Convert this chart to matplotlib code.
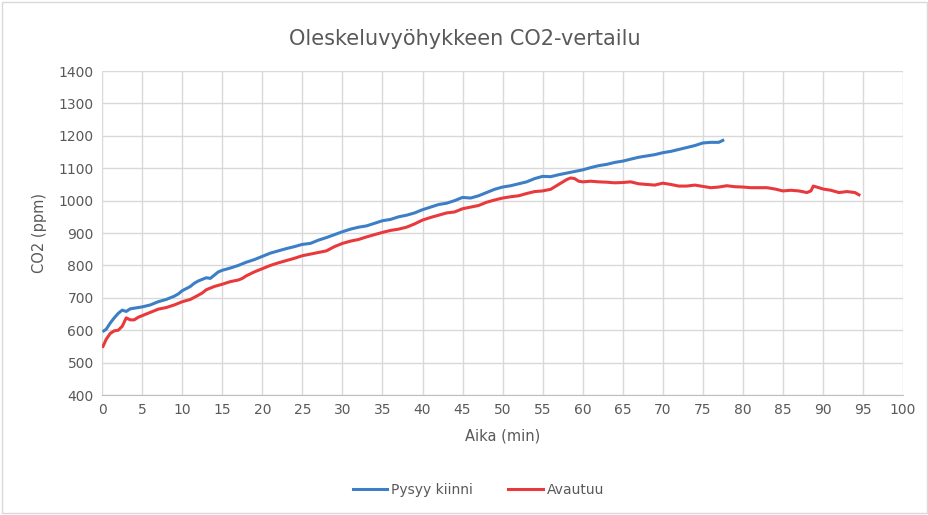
import matplotlib.pyplot as plt
from matplotlib.patches import Rectangle

# Pysyy kiinni (blue)
blue_t = [0.2, 0.5, 1, 1.5, 2, 2.5, 3, 3.5, 4, 4.5,
          5, 6, 7, 8, 9, 9.5, 10, 11, 11.5, 12,
          13, 13.5, 14, 14.5, 15, 16, 17, 18, 19, 20,
          21, 22, 23, 24, 25, 26, 27, 28, 29, 30,
          31, 32, 33, 34, 35, 36, 37, 38, 39, 40,
          41, 42, 43, 44, 45, 46, 47, 48, 49, 50,
          51, 52, 53, 54, 55, 56, 57, 58, 59, 60,
          61, 62, 63, 64, 65, 66, 67, 68, 69, 70,
          71, 72, 73, 74, 75, 76, 77, 77.5]
blue_co2 = [598, 603, 622, 638, 652, 662, 658, 666, 668, 670,
            672, 678, 688, 695, 705, 712, 722, 735, 745, 752,
            762, 760, 770, 780, 785, 792, 800, 810, 818, 828,
            838, 845, 852, 858, 865, 868, 878, 886, 895, 904,
            912, 918, 922, 930, 938, 942, 950, 955, 962, 972,
            980, 988, 992, 1000, 1010, 1008, 1015, 1025, 1035, 1042,
            1046, 1052, 1058, 1068, 1075, 1074, 1080, 1085, 1090, 1095,
            1102, 1108, 1112, 1118, 1122, 1128, 1134, 1138, 1142, 1148,
            1152, 1158, 1164, 1170, 1178, 1180, 1180, 1186]

# Avautuu (red)
red_t = [0.1, 0.5, 1, 1.5, 2, 2.5, 3, 3.5, 4, 4.5, 5,
         6, 7, 8, 9, 10, 11, 12, 12.5, 13, 14,
         15, 16, 17, 17.5, 18, 19, 20,
         21, 22, 23, 24, 25, 26, 27, 28, 29, 30,
         31, 32, 33, 34, 35, 36, 37, 38, 39, 40,
         41, 42, 43, 44, 45, 46, 47, 48, 49, 50,
         51, 52, 53, 54, 55, 56, 57,
         58, 58.5, 59, 59.5, 60,
         61, 62, 63, 64, 65, 66, 67, 68, 69, 70,
         71, 72, 73, 74, 75, 76, 77, 78, 79, 80,
         81, 82, 83, 84, 85, 86, 87, 88,
         88.5, 88.8, 89.5, 90,
         91, 92, 93, 94, 94.5]
red_co2 = [550, 572, 590, 598, 600, 612, 638, 632, 632, 640, 645,
           655, 665, 670, 678, 688, 695, 708, 715, 725, 735,
           742, 750, 755, 760, 768, 780, 790,
           800, 808, 815, 822, 830, 835, 840, 845, 858, 868,
           875, 880, 888, 895, 902, 908, 912, 918, 928, 940,
           948, 955, 962, 965, 975, 980, 985, 995, 1002, 1008,
           1012, 1015, 1022, 1028, 1030, 1035, 1050,
           1065, 1070, 1068, 1060, 1058,
           1060, 1058, 1057, 1055, 1056, 1058, 1052, 1050, 1048, 1054,
           1050, 1045, 1045, 1048, 1044, 1040, 1042, 1046, 1043, 1042,
           1040, 1040, 1040, 1036, 1030, 1032, 1030, 1025,
           1030, 1045, 1040, 1036,
           1032, 1025, 1028, 1025, 1018]

C_BLUE = "#3d7fc6"
C_RED = "#e8393c"
C_TXT = "#595959"

fig = plt.figure(figsize=(9.29, 5.15), dpi=100)
fig.patches.append(Rectangle((0.002, 0.004), 0.996, 0.992, transform=fig.transFigure,
                             fill=False, edgecolor="#d9d9d9", linewidth=1))
ax = fig.add_axes([0.110, 0.233, 0.862, 0.629])

ax.plot(blue_t, blue_co2, color=C_BLUE, linewidth=2.2, label="Pysyy kiinni")
ax.plot(red_t, red_co2, color=C_RED, linewidth=2.2, label="Avautuu")

ax.set_xlim(0, 100)
ax.set_ylim(400, 1400)
ax.set_xticks(range(0, 101, 5))
ax.set_yticks(range(400, 1401, 100))
ax.grid(True, color="#d9d9d9", linewidth=1)
ax.set_axisbelow(True)
for side in ["top", "right", "left"]:
    ax.spines[side].set_visible(False)
ax.spines["bottom"].set_color("#bfbfbf")
ax.tick_params(length=0, labelsize=10, colors=C_TXT, pad=6)

ax.set_xlabel("Aika (min)", fontsize=10.5, color=C_TXT, labelpad=8)
ax.set_ylabel("CO2 (ppm)", fontsize=10.5, color=C_TXT, labelpad=8)
fig.text(0.5, 0.925, "Oleskeluvyöhykkeen CO2-vertailu", ha="center", va="center",
         fontsize=15, color=C_TXT)

fig.legend(loc="center", bbox_to_anchor=(0.515, 0.048), ncol=2, frameon=False,
           fontsize=10, labelcolor=C_TXT, handlelength=2.5, columnspacing=2.5,
           handletextpad=0.3)

fig.savefig("out.png", dpi=100)
